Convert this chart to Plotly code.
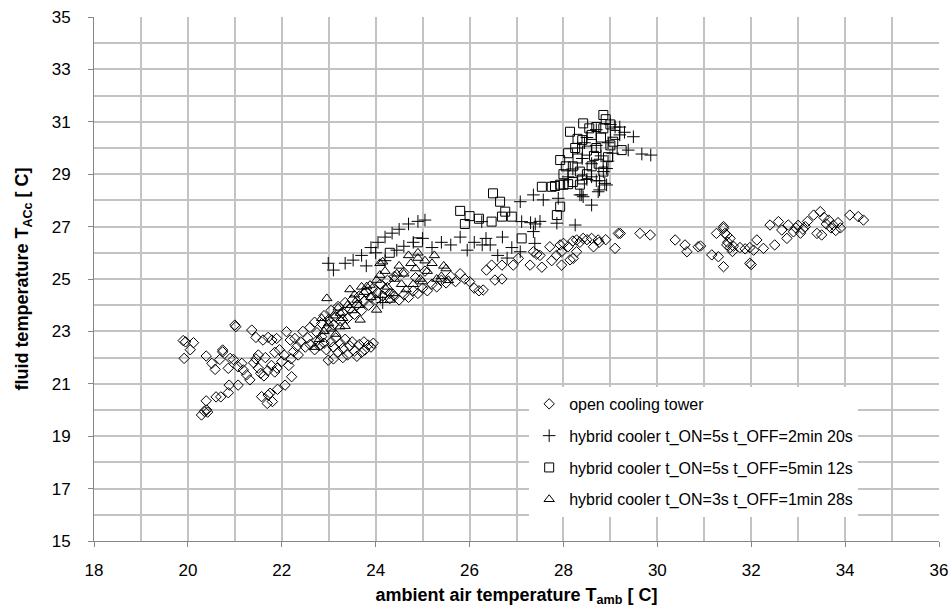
import plotly.graph_objects as go

# ---- data ----
open_x = [19.90,19.95,20.12,19.92,20.05,20.29,20.35,20.40,20.42,20.39,20.60,20.70,20.86,20.88,21.07,
          20.39,20.51,20.58,20.74,20.74,20.68,20.86,20.90,20.97,21.00,21.02,21.36,21.45,
          21.07,21.18,21.25,21.32,21.15,21.57,21.69,21.75,21.80,21.71,21.91,22.07,22.21,
          21.60,21.71,21.79,21.89,22.10,22.18,22.28,22.32,22.25,
          21.40,21.50,21.55,21.62,21.70,21.78,21.85,21.90,22.00,22.05,21.95,21.85,21.65,21.50,21.45,22.15,22.20,22.35,
          22.40,22.50,22.55,22.60,22.70,22.75,22.80,22.85,22.90,22.95,22.99,23.05,23.10,23.15,23.20,23.25,23.30,23.35,
          23.40,23.45,23.50,23.55,23.60,23.65,23.70,23.75,23.77,23.84,23.90,23.95,23.30,23.10,
          22.45,22.60,22.70,22.75,22.85,22.90,22.95,23.00,23.05,23.10,23.15,23.20,23.25,23.30,23.35,23.40,23.45,
          23.50,23.55,23.60,23.65,23.70,23.75,23.80,23.85,23.90,23.95,24.00,24.05,24.10,24.15,24.20,24.25,24.30,
          24.30,24.40,24.50,24.60,24.70,24.80,24.90,25.00,25.10,25.20,25.30,25.40,25.50,25.60,25.70,25.80,25.90,
          26.00,26.10,26.20,26.29,26.36,26.47,26.54,26.69,26.69,26.93,27.04,27.29,27.36,27.43,27.50,27.54,27.71,
          27.96,27.96,28.00,28.10,28.14,28.21,28.28,28.28,28.42,28.60,28.74,28.76,28.64,28.50,28.35,28.20,28.90,
          27.93,27.85,27.75,24.40,24.60,24.85,25.05,
          29.10,29.17,29.21,29.63,29.85,30.38,30.59,30.63,30.87,30.92,31.16,31.30,31.26,31.41,31.48,31.50,31.55,
          31.60,31.41,31.41,31.44,31.55,31.48,31.62,31.76,31.87,31.97,32.05,31.97,32.00,32.12,32.26,32.40,32.58,
          32.50,32.65,32.79,32.76,32.90,32.95,33.00,33.05,33.10,33.15,33.33,33.47,33.40,33.50,33.60,33.65,33.70,
          33.75,33.80,33.85,33.90,34.10,34.28,34.39,33.55,33.20]
open_y = [22.65,22.60,22.57,21.97,22.30,19.81,19.95,20.00,19.92,20.35,20.50,20.50,20.66,20.95,20.95,
          22.06,21.78,21.55,22.29,22.22,21.93,21.59,21.97,21.93,23.24,23.18,23.05,22.77,
          21.65,21.53,21.34,21.15,21.78,20.51,20.25,20.64,20.32,20.57,20.79,20.95,21.27,
          22.67,22.77,22.67,22.73,22.99,22.67,22.73,22.42,22.23,
          21.80,21.60,21.40,21.30,21.50,21.70,21.45,21.60,21.85,22.10,22.30,22.20,22.00,22.10,21.95,21.70,21.95,22.10,
          22.60,22.40,22.75,22.50,22.30,22.65,22.45,22.80,22.55,22.30,21.90,22.60,22.40,22.75,22.20,22.55,22.35,22.70,
          22.10,22.45,22.60,22.25,22.05,22.50,22.20,22.60,22.29,22.48,22.40,22.55,22.00,21.95,
          23.00,23.15,23.35,22.95,23.30,23.60,23.10,23.45,23.80,23.25,23.55,23.95,23.40,23.70,24.10,23.50,23.85,
          24.20,23.65,24.00,24.35,23.80,24.15,24.50,24.00,24.30,24.65,24.20,24.50,24.80,24.35,24.60,24.95,24.45,
          24.25,24.35,24.20,24.40,24.30,24.55,24.45,24.65,24.55,24.80,24.70,24.95,24.85,25.10,24.90,25.20,25.00,
          24.90,24.65,24.55,24.58,25.34,25.53,24.96,25.53,25.00,25.53,25.79,25.53,26.04,25.95,25.90,25.45,26.23,
          26.04,25.53,26.36,26.23,25.73,25.79,26.04,26.49,26.55,26.55,26.49,26.40,26.23,26.50,26.40,26.45,26.50,
          26.30,25.90,25.70,25.10,25.25,25.05,25.30,
          26.17,26.74,26.74,26.74,26.68,26.49,26.30,26.04,26.23,26.26,25.92,25.85,26.74,26.93,26.68,26.40,26.20,
          26.05,25.47,27.00,26.74,26.55,26.30,26.25,26.20,26.15,26.20,26.10,25.60,25.55,26.49,26.17,27.06,27.19,
          26.30,26.87,27.06,26.55,26.80,26.95,27.05,26.75,26.90,27.00,27.44,27.57,26.74,26.68,27.10,27.25,26.95,
          27.05,26.85,27.15,26.95,27.44,27.38,27.25,27.35,27.20]

hyb1_x = [22.99,23.10,23.35,23.52,23.70,23.90,24.05,24.20,24.35,24.50,24.70,24.90,25.05,24.45,24.60,24.80,
          25.00,25.20,25.40,25.60,25.80,25.95,26.10,26.27,26.35,26.44,26.26,26.70,26.90,27.08,27.11,27.30,
          27.40,27.50,27.36,27.39,27.86,28.25,27.08,27.36,27.57,27.89,28.35,28.42,28.60,28.74,28.92,28.77,
          28.39,28.77,28.85,28.92,28.88,28.50,28.60,28.70,29.49,29.38,29.67,29.86,29.10,29.20,28.95,28.80,
          28.60,28.40,28.20,28.10,28.30,28.50,28.70,29.00,29.20,29.30,29.05,28.95,28.70,28.45,26.80,26.60,
          24.20,24.00,23.80,24.10,24.15]
hyb1_y = [25.60,25.34,25.60,25.72,25.90,26.20,26.40,26.60,26.75,26.90,27.10,27.20,27.25,26.10,26.25,26.40,
          26.55,26.20,26.40,26.30,26.60,26.10,26.40,26.30,26.55,26.30,27.19,26.60,26.20,26.04,27.19,27.15,
          27.10,27.20,26.81,26.36,27.13,27.06,27.95,28.21,28.02,28.08,28.21,28.14,27.82,28.33,28.59,28.75,
          28.21,28.40,29.10,29.22,28.65,28.80,28.90,28.75,30.43,29.92,29.77,29.73,30.80,30.50,30.20,29.70,
          29.40,29.60,29.20,28.90,30.00,30.40,30.70,30.90,30.80,30.60,29.80,29.50,30.10,30.20,25.80,25.90,
          25.70,26.00,25.50,24.30,24.10]

hyb2_x = [24.30,24.90,25.80,26.00,26.20,25.90,26.50,26.65,26.76,26.69,26.90,26.47,27.11,27.54,27.75,27.82,
          27.93,28.10,28.35,27.93,27.86,28.85,28.90,28.42,28.14,28.70,28.85,29.00,29.06,29.24,28.30,28.40,
          28.10,27.93,28.00,28.00,28.60,28.65,28.70,28.85,28.20,28.30,28.50,28.50,28.40,28.20,28.75,28.95,
          29.10,28.60,28.25,28.05,28.80,29.00,28.55,28.35]
hyb2_y = [26.00,26.40,27.60,27.40,27.30,27.10,28.27,27.95,27.57,27.38,27.38,27.19,26.55,28.52,28.52,28.55,
          28.60,28.62,28.60,27.76,27.44,31.26,31.10,30.94,30.62,30.80,30.75,30.90,30.24,29.92,30.35,30.30,
          29.80,29.54,29.00,28.60,29.30,29.70,30.00,29.10,29.30,29.60,29.90,29.00,28.80,28.70,29.40,29.65,
          30.50,30.50,30.00,29.30,30.40,30.10,30.75,29.10]

hyb3_x = [22.70,22.80,22.90,22.96,23.00,23.10,23.20,23.24,23.30,23.40,23.50,23.55,23.60,23.67,23.70,23.75,
          23.81,23.88,23.90,24.02,24.02,24.09,24.09,24.15,24.20,24.31,24.37,24.40,24.50,24.55,24.60,24.70,
          24.75,24.80,24.85,24.90,24.95,25.00,25.05,25.10,25.20,25.30,25.40,25.50,25.55,24.65,23.15,23.35,
          22.85,23.45,23.05,23.25,23.65,24.25,24.45,24.90,25.25,25.45]
hyb3_y = [22.40,22.70,23.00,24.26,23.30,23.60,23.90,23.18,23.50,24.00,23.80,24.40,24.20,23.44,24.70,24.50,
          24.71,24.77,24.30,24.96,23.82,25.15,25.60,25.66,25.30,24.20,24.45,25.00,25.50,24.80,25.20,25.90,
          25.60,24.80,25.40,26.00,25.00,24.90,25.70,25.30,25.60,25.00,25.10,25.40,24.95,24.60,22.90,23.20,
          23.50,24.60,23.10,23.70,24.00,24.70,25.20,25.80,25.90,25.50]

names = ["open cooling tower",
         "hybrid cooler t_ON=5s t_OFF=2min 20s",
         "hybrid cooler t_ON=5s t_OFF=5min 12s",
         "hybrid cooler t_ON=3s t_OFF=1min 28s"]

x_ticks = [18, 20, 22, 24, 26, 28, 30, 32, 34, 36]
y_ticks = [15, 17, 19, 21, 23, 25, 27, 29, 31, 33, 35]

FONT = "Liberation Sans, Arial, sans-serif"
fig = go.Figure()
series = [
    (open_x, open_y, "diamond-open", 8),
    (hyb1_x, hyb1_y, "cross-thin-open", 9),
    (hyb2_x, hyb2_y, "square-open", 9),
    (hyb3_x, hyb3_y, "triangle-up-open", 9),
]
for i, (xs, ys, sym, sz) in enumerate(series):
    fig.add_trace(go.Scatter(
        x=xs, y=ys, mode="markers", name=names[i], legendgroup=f"g{i}",
        marker=dict(symbol=sym, size=sz, color="black",
                    line=dict(color="black", width=1)),
    ))

grid = "#c3c3c3"
fig.update_layout(
    width=952, height=614,
    margin=dict(l=94, r=13, t=17, b=73, autoexpand=False),
    plot_bgcolor="white", paper_bgcolor="white",
    font=dict(family=FONT, color="black"),
    showlegend=True,
    legend=dict(x=0.515, y=0.294, xanchor="left", yanchor="top",
                bgcolor="white", borderwidth=0,
                font=dict(size=16, family=FONT),
                traceorder="grouped", tracegroupgap=8,
                itemsizing="trace", itemwidth=30),
    xaxis=dict(range=[18, 36], tickvals=x_ticks, ticks="outside", ticklen=5,
               tickcolor="#868686", showline=True, linecolor="#868686",
               showgrid=True, gridcolor=grid, gridwidth=1.5, automargin=False,
               ticklabelstandoff=9, ticklabeloverflow="allow",
               minor=dict(dtick=1, showgrid=True, gridcolor=grid, gridwidth=1.5),
               tickfont=dict(size=17, family=FONT), zeroline=False,
               title=dict(text="<b>ambient air temperature T<sub>amb</sub> [ C]</b>",
                          font=dict(size=18, family=FONT), standoff=8)),
    yaxis=dict(range=[15, 35], tickvals=y_ticks, ticks="outside", ticklen=5,
               tickcolor="#868686", showline=True, linecolor="#868686",
               showgrid=True, gridcolor=grid, gridwidth=1.5, automargin=False,
               ticklabelstandoff=14, ticklabeloverflow="allow",
               minor=dict(dtick=1, tick0=15, showgrid=True, gridcolor=grid, gridwidth=1.5),
               tickfont=dict(size=17, family=FONT), zeroline=False,
               title=dict(text="<b>fluid temperature T<sub>ACc</sub> [ C]</b>",
                          font=dict(size=18, family=FONT), standoff=18)),
)
# remove the browser's default page margin so the figure fills the window exactly
page_js = ("document.body.style.margin='0';"
           "document.body.style.overflow='hidden';"
           "document.documentElement.style.overflow='hidden';")
fig.write_html("out.html", post_script=page_js, config={"displayModeBar": False})
